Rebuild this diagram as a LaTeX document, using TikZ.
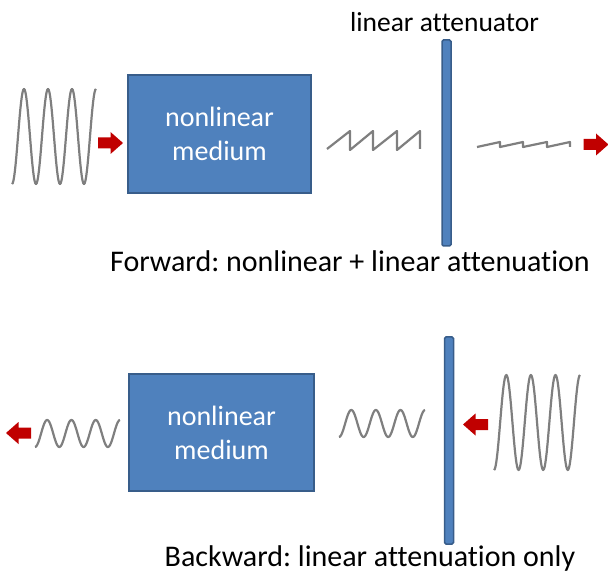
\documentclass[tikz,border=0pt]{standalone}
\usepackage{fontspec}
\setmainfont{Carlito}[Ligatures=NoCommon]
\frenchspacing
\definecolor{boxfill}{HTML}{4F81BD}
\definecolor{boxline}{HTML}{385D8A}
\definecolor{wavegray}{HTML}{7F7F7F}
\definecolor{arrowred}{HTML}{C00000}
\tikzset{
  medbox/.style={draw=boxline, line width=2.5pt, fill=boxfill, text=white, align=center,
    font=\fontsize{28}{34}\selectfont, inner sep=0pt},
  attbar/.style={draw=boxline, line width=1.5pt, fill=boxfill, rounded corners=1.5pt, inner sep=0pt},
  wave/.style={draw=wavegray, line width=2.2pt, line join=round},
  caption/.style={font=\fontsize{30}{36}\selectfont, anchor=base, inner sep=0pt},
  lbl/.style={font=\fontsize{27.5}{33}\selectfont, anchor=base, inner sep=0pt},
  blockarrow/.pic={\fill[arrowred] (-12.5,-5.5) -- (0,-5.5) -- (0,-11) -- (12.5,0) -- (0,11) -- (0,5.5) -- (-12.5,5.5) -- cycle;}
}
\begin{document}
\begin{tikzpicture}[x=1pt,y=-1pt]
\useasboundingbox (0,0) rectangle (608,577);
% ---------- forward ----------
\draw[wave] plot[domain=12:96,samples=120] (\x,{136.5+47.5*cos(15*(\x-12))});
\pic at (110.5,143) {blockarrow};
\node[medbox, minimum width=183pt, minimum height=118pt] (nlA) at (219.5,134) {nonlinear\\medium};
\draw[wave] (327,149) -- (350,131) -- (350,150) -- (373,131) -- (373,150) -- (397,131) -- (397,150) -- (420,131) -- (420,149);
\node[attbar, minimum width=9pt, minimum height=206pt] (barA) at (446.5,143) {};
\node[lbl] (lblA) at (444.5,32) {linear attenuator};
\draw[wave] (477,147) -- (500,142) -- (500,147) -- (523,142) -- (523,147) -- (547,142) -- (547,147) -- (570,142) -- (570,147);
\pic at (596,144.5) {blockarrow};
\node[caption] (capA) at (350,272) {Forward: nonlinear + linear attenuation};
% ---------- backward ----------
\pic[xscale=-1] at (18.5,433) {blockarrow};
\draw[wave] plot[domain=35:120,samples=120] (\x,{433.5+13.5*cos(14.815*(\x-35))});
\node[medbox, minimum width=185pt, minimum height=117pt] (nlB) at (221.5,432.5) {nonlinear\\medium};
\draw[wave] plot[domain=339:425,samples=120] (\x,{423.5+13.5*cos(14.634*(\x-339))});
\node[attbar, minimum width=9pt, minimum height=207pt] (barB) at (449,440.5) {};
\pic[xscale=-1] at (475.5,424.5) {blockarrow};
\draw[wave] plot[domain=494:580,samples=120] (\x,{422.5+47.5*cos(14.634*(\x-494))});
\node[caption] (capB) at (370,566) {Backward: linear attenuation only};
\end{tikzpicture}
\end{document}
